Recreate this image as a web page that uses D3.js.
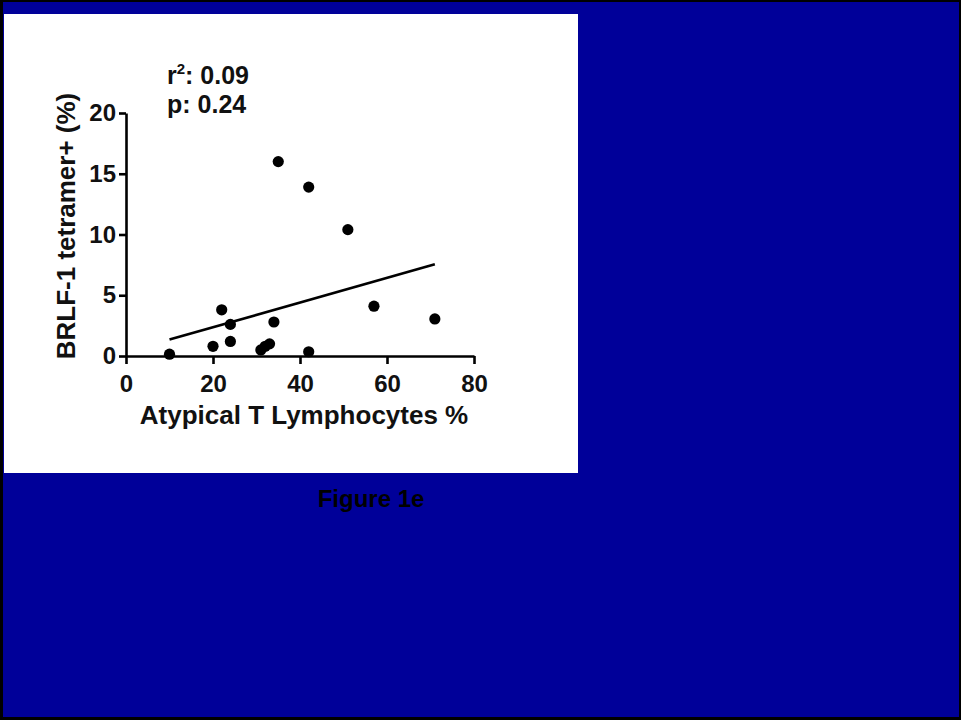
<!DOCTYPE html>
<html>
<head>
<meta charset="utf-8">
<script src="https://cdn.jsdelivr.net/npm/d3@7"></script>
<style>
  html, body { margin: 0; padding: 0; background: #000; }
  svg { display: block; }
  text { font-family: "Liberation Sans", Arial, sans-serif; font-weight: bold; }
</style>
</head>
<body>
<svg id="chart" width="961" height="720"></svg>
<script>
// ---- data ----
const atypicalT = [10, 20, 22, 24, 24, 31, 32, 33, 34, 35, 42, 42, 51, 57, 71];
const brlfTetramer = [0.15, 0.8, 3.8, 2.6, 1.2, 0.5, 0.8, 1.0, 2.8, 16, 13.9, 0.35, 10.4, 4.1, 3.05];
const fitX = [10, 71];
const fitY = [1.35, 7.55];
const xTicks = [0, 20, 40, 60, 80];
const yTicks = [0, 5, 10, 15, 20];
const statLines = [["r", "2", ": 0.09"], ["p: 0.24"]];
const xTitle = "Atypical T Lymphocytes %";
const yTitle = "BRLF-1 tetramer+ (%)";
const caption = "Figure 1e";

const svg = d3.select("#chart");

// background / frame
svg.append("rect").attr("x", 0).attr("y", 0).attr("width", 961).attr("height", 720).attr("fill", "#000");
svg.append("rect").attr("x", 3).attr("y", 2).attr("width", 956).attr("height", 715).attr("fill", "#000099");
svg.append("rect").attr("x", 4).attr("y", 14).attr("width", 574).attr("height", 459).attr("fill", "#ffffff");

const x = d3.scaleLinear().domain([0, 80]).range([126, 474]);
const y = d3.scaleLinear().domain([0, 20]).range([356, 113]);

// axes
const gx = svg.append("g").attr("transform", `translate(0,${y(0)})`)
  .call(d3.axisBottom(x).tickValues(xTicks).tickSize(8).tickSizeOuter(0).tickPadding(11).tickFormat(d3.format("d")));
const gy = svg.append("g").attr("transform", `translate(${x(0)},0)`)
  .call(d3.axisLeft(y).tickValues(yTicks).tickSize(7).tickSizeOuter(0).tickPadding(3).tickFormat(d3.format("d")));

[gx, gy].forEach(g => {
  g.select(".domain").attr("stroke", "#000").attr("stroke-width", 2.6);
  g.selectAll(".tick line").attr("stroke", "#000").attr("stroke-width", 2.6);
  g.selectAll(".tick text").attr("fill", "#111").style("font-size", "24px")
    .style("font-family", "'Liberation Sans', Arial, sans-serif").style("font-weight", "bold");
});

// regression line
svg.append("line")
  .attr("x1", x(fitX[0])).attr("y1", y(fitY[0]))
  .attr("x2", x(fitX[1])).attr("y2", y(fitY[1]))
  .attr("stroke", "#000").attr("stroke-width", 2.6);

// points
svg.append("g").selectAll("circle")
  .data(atypicalT.map((v, i) => [v, brlfTetramer[i]]))
  .join("circle")
  .attr("cx", d => x(d[0])).attr("cy", d => y(d[1]))
  .attr("r", 5.6).attr("fill", "#000");

// stats text
const st1 = svg.append("text").attr("x", 167).attr("y", 84).style("font-size", "25px").attr("fill", "#111");
st1.append("tspan").text(statLines[0][0]);
st1.append("tspan").attr("dy", -10).style("font-size", "15px").text(statLines[0][1]);
st1.append("tspan").attr("dy", 10).text(statLines[0][2]);
svg.append("text").attr("x", 167).attr("y", 113).style("font-size", "25px").attr("fill", "#111").text(statLines[1][0]);

// axis titles
svg.append("text").attr("x", 304).attr("y", 424).attr("text-anchor", "middle")
  .style("font-size", "26px").attr("fill", "#111").text(xTitle);
svg.append("text").attr("transform", "translate(75,226) rotate(-90)").attr("text-anchor", "middle")
  .style("font-size", "26px").attr("fill", "#111").text(yTitle);

// caption
svg.append("text").attr("x", 371).attr("y", 507).attr("text-anchor", "middle")
  .style("font-size", "24px").attr("fill", "#000").text(caption);
</script>
</body>
</html>
